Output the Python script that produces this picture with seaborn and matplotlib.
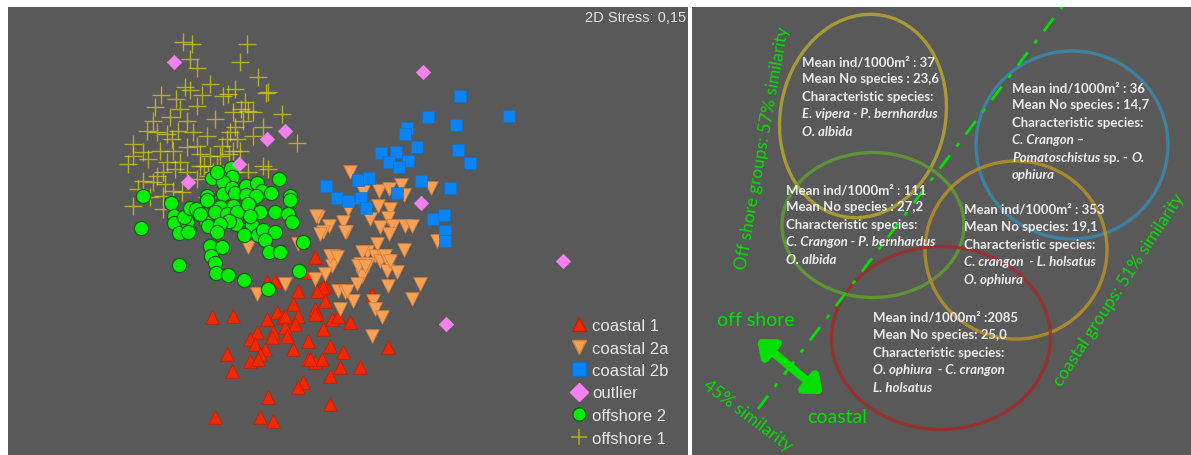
import matplotlib
matplotlib.use("Agg")
import matplotlib.pyplot as plt
from matplotlib.patches import Ellipse
from matplotlib.lines import Line2D
import pandas as pd
import seaborn as sns

# nMDS ordination, coordinates (picture units, y downwards)
coastal1_x = [315, 275, 267, 298, 320, 325, 293, 315, 325, 212, 233, 267, 277, 283, 298, 295, 317,
              332, 338, 350, 323, 285, 273, 257, 250, 255, 272, 287, 308, 265, 260, 227, 293, 330,
              343, 308, 315, 322, 250, 258, 340, 360, 232, 330, 303, 298, 268, 330, 215, 260, 273,
              388, 372, 323, 317, 305, 315, 285, 310]
coastal1_y = [258, 282, 283, 292, 290, 287, 305, 310, 302, 318, 317, 320, 313, 318, 317, 325, 315,
              320, 317, 323, 330, 328, 333, 333, 340, 345, 338, 337, 342, 350, 355, 355, 350, 347,
              353, 360, 363, 360, 362, 360, 368, 368, 372, 377, 383, 388, 398, 405, 418, 418, 422,
              348, 295, 288, 292, 273, 315, 317, 360]

coastal2a_x = [350, 379, 389, 401, 404, 431, 363, 348, 318, 329, 343, 323, 346, 370, 378, 390, 380,
               388, 393, 405, 412, 389, 437, 377, 367, 375, 404, 383, 333, 332, 360, 368, 380, 387,
               387, 397, 325, 315, 362, 357, 420, 388, 285, 338, 345, 353, 373, 412, 375, 340, 382,
               298, 248, 257, 320, 345, 330, 337, 362, 385, 390, 358, 365, 372, 316, 347]
coastal2a_y = [173, 192, 190, 186, 196, 189, 193, 210, 218, 227, 223, 233, 233, 220, 207, 210, 228,
               219, 227, 227, 227, 235, 242, 245, 253, 257, 251, 257, 257, 267, 265, 265, 262, 262,
               272, 273, 275, 280, 277, 285, 285, 287, 285, 292, 293, 302, 302, 300, 310, 310, 318,
               245, 248, 295, 235, 233, 257, 258, 253, 257, 262, 267, 267, 337, 217, 292]

coastal2b_x = [460, 428, 509, 456, 407, 405, 417, 381, 396, 389, 408, 399, 458, 470, 326, 358, 369,
               421, 450, 337, 348, 361, 366, 397, 433, 444, 445, 445]
coastal2b_y = [97, 118, 117, 126, 129, 135, 148, 154, 153, 163, 162, 168, 151, 164, 187, 181, 179,
               182, 189, 199, 202, 199, 209, 194, 220, 216, 232, 242]

outlier_x = [174, 285, 267, 239, 188, 423, 421, 563, 446]
outlier_y = [63, 132, 140, 165, 183, 73, 204, 262, 325]

offshore2_x = [143, 141, 179, 171, 174, 174, 179, 189, 187, 184, 190, 196, 203, 206, 208, 207, 207,
               212, 219, 226, 231, 232, 223, 223, 232, 235, 246, 257, 262, 271, 279, 290, 290, 246,
               256, 249, 233, 220, 215, 227, 237, 236, 229, 220, 217, 251, 260, 275, 288, 292, 252,
               244, 258, 263, 275, 265, 303, 269, 280, 210, 222, 211, 215, 216, 228, 244, 268, 299,
               217, 248, 250, 200, 188]
offshore2_y = [197, 229, 266, 204, 217, 224, 234, 232, 223, 218, 209, 210, 215, 223, 227, 197, 201,
               179, 174, 176, 169, 178, 183, 195, 189, 194, 187, 184, 192, 194, 180, 197, 201, 196,
               197, 206, 207, 208, 213, 215, 213, 225, 222, 225, 233, 217, 213, 213, 215, 223, 226,
               236, 236, 231, 233, 241, 243, 253, 253, 247, 248, 257, 264, 274, 276, 281, 290, 272,
               173, 205, 217, 215, 233]

offshore1_x = [183, 192, 247, 190, 197, 240, 161, 176, 190, 202, 197, 223, 228, 235, 266, 268, 282,
               297, 263, 245, 241, 233, 248, 253, 243, 235, 230, 227, 237, 253, 240, 233, 222, 220,
               229, 210, 204, 217, 248, 263, 268, 180, 170, 187, 178, 193, 207, 153, 147, 157, 167,
               172, 133, 143, 133, 148, 160, 173, 187, 197, 200, 167, 180, 175, 163, 157, 143, 153,
               165, 173, 182, 133, 150, 163, 200, 197, 208, 207, 163, 187, 213, 233, 128, 138, 155,
               215, 185, 210, 258]
offshore1_y = [43, 45, 45, 60, 69, 63, 96, 100, 91, 96, 107, 97, 95, 90, 94, 93, 115, 144, 128, 103,
               110, 113, 112, 113, 122, 128, 133, 140, 140, 137, 152, 152, 147, 157, 155, 157, 167,
               167, 173, 167, 170, 110, 118, 122, 132, 133, 137, 122, 132, 133, 135, 140, 145, 153,
               157, 160, 152, 152, 148, 147, 155, 163, 163, 170, 173, 177, 182, 183, 185, 192, 193,
               207, 198, 197, 167, 180, 177, 198, 210, 173, 173, 173, 165, 190, 108, 120, 88, 85, 78]

group_order = ["coastal 1", "coastal 2a", "coastal 2b", "outlier", "offshore 2", "offshore 1"]
stress_label = "2D Stress: 0,15"

# summary boxes on the right
group_boxes = [
    ["Mean ind/1000m\u00b2 : 37", "Mean No species : 23,6", "Characteristic species:",
     [("E. vipera - P. bernhardus", "italic")], [("O. albida", "italic")]],
    ["Mean ind/1000m\u00b2 : 111", "Mean No species : 27,2", "Characteristic species:",
     [("C. Crangon - P. bernhardus", "italic")], [("O. albida", "italic")]],
    ["Mean ind/1000m\u00b2 : 36", "Mean No species : 14,7", "Characteristic species:",
     [("C. Crangon \u2013", "italic")],
     [("Pomatoschistus", "italic"), (" sp. - ", "normal"), ("O.", "italic")],
     [("ophiura", "italic")]],
    ["Mean ind/1000m\u00b2 : 353", "Mean No species: 19,1", "Characteristic species:",
     [("C. crangon  - L. holsatus", "italic")], [("O. ophiura", "italic")]],
    ["Mean ind/1000m\u00b2 :2085", "Mean No species: 25,0", "Characteristic species:",
     [("O. ophiura  - C. crangon", "italic")], [("L. holsatus", "italic")]],
]

frames = []
for name, xs, ys in [("coastal 1", coastal1_x, coastal1_y), ("coastal 2a", coastal2a_x, coastal2a_y),
                     ("coastal 2b", coastal2b_x, coastal2b_y), ("outlier", outlier_x, outlier_y),
                     ("offshore 2", offshore2_x, offshore2_y), ("offshore 1", offshore1_x, offshore1_y)]:
    frames.append(pd.DataFrame({"MDS1": xs, "MDS2": ys, "group": name}))
data = pd.concat(frames, ignore_index=True)

bg = "#595959"
sns.set_style("dark", {"axes.facecolor": bg})
plt.rcParams["font.family"] = ["Liberation Sans", "DejaVu Sans"]

fig = plt.figure(figsize=(11.91, 4.56), dpi=100)
ax = fig.add_axes([8 / 1191, 0, 680 / 1191, 448 / 456])
ax2 = fig.add_axes([692 / 1191, 0, 499 / 1191, 448 / 456])

styles = {
    "offshore 1": dict(marker="+", s=150, color="#f0e800", alpha=0.6, linewidth=1.0),
    "coastal 1": dict(marker="^", s=95, color="#f02800", edgecolor="#c02000", linewidth=0.6),
    "coastal 2a": dict(marker="v", s=95, color="#f9a054", edgecolor="#d08040", linewidth=0.6),
    "coastal 2b": dict(marker="s", s=80, color="#0a84f5", edgecolor="#0a70d0", linewidth=0.4),
    "offshore 2": dict(marker="o", s=105, color="#00f000", edgecolor="#1c5a1c", linewidth=0.9),
    "outlier": dict(marker="D", s=55, color="#f580f0", edgecolor="#f580f0", linewidth=0.4),
}
draw_order = ["offshore 1", "coastal 1", "coastal 2a", "coastal 2b", "offshore 2", "outlier"]
for g in draw_order:
    sub = data[data["group"] == g]
    sns.scatterplot(data=sub, x="MDS1", y="MDS2", ax=ax, legend=False, **styles[g])

ax.set_xlim(8, 688)
ax.set_ylim(456, 8)
ax.set_xticks([])
ax.set_yticks([])
ax.set_xlabel("")
ax.set_ylabel("")
for sp in ax.spines.values():
    sp.set_visible(False)

ax.text(686, 18, stress_label, ha="right", va="center", fontsize=10.5, color="#e6e6e6")

handles = []
for g in group_order:
    st = styles[g]
    if st["marker"] == "+":
        h = Line2D([], [], marker="+", linestyle="none", markersize=11, color="#b0a820",
                   markeredgewidth=1.2)
    else:
        h = Line2D([], [], marker=st["marker"], linestyle="none", markersize=9.5,
                   markerfacecolor=st["color"], markeredgecolor=st["edgecolor"])
    handles.append(h)
ax.legend(handles, group_order, loc="upper left", bbox_to_anchor=(569, 319),
          bbox_transform=ax.transData, frameon=False, fontsize=12, labelcolor="#e8e8e8",
          handletextpad=0.2, labelspacing=0.45, handlelength=1.2, borderpad=0, borderaxespad=0)

# right panel: schematic of the clusters
ax2.set_xlim(692, 1191)
ax2.set_ylim(456, 8)
ax2.set_xticks([])
ax2.set_yticks([])
for sp in ax2.spines.values():
    sp.set_visible(False)

ellipses = [
    ((863, 117), 165, 205, 12, "#b4a632"),
    ((1072, 146), 192, 188, 0, "#3a88ac"),
    ((873, 226), 182, 145, 0, "#5f9e32"),
    ((1016, 251), 182, 178, 0, "#b89028"),
    ((941, 339), 219, 183, 0, "#a02a28"),
]
for c, w, h, ang, col in ellipses:
    ax2.add_patch(Ellipse(c, w, h, angle=ang, fill=False, edgecolor=col, linewidth=2.4, alpha=0.85))

green = "#00e000"
ax2.plot([758, 1062], [410, 8], color=green, linewidth=2, linestyle=(0, (6, 4, 1.5, 4)))
ax2.annotate("", xy=(823, 395), xytext=(757, 340),
             arrowprops=dict(arrowstyle="<|-|>,head_length=0.55,head_width=0.45", color=green,
                             linewidth=6, shrinkA=0, shrinkB=0, mutation_scale=16))

tfont = ["Lato", "DejaVu Sans"]
ax2.text(756, 320, "off shore", color=green, fontsize=14, ha="center", va="center", family=tfont)
ax2.text(837, 418, "coastal", color=green, fontsize=14, ha="center", va="center", family=tfont)
ax2.text(748, 416, "45% similarity", color=green, fontsize=12.5, rotation=-37, ha="center",
         va="center", family=tfont, rotation_mode="anchor")
ax2.text(763, 148, "Off shore groups: 57% similarity", color=green, fontsize=12.5, rotation=80,
         ha="center", va="center", family=tfont, rotation_mode="anchor")
ax2.text(1119, 290, "coastal groups: 51% similarity", color=green, fontsize=12.5, rotation=57,
         ha="center", va="center", family=tfont, rotation_mode="anchor")

box_pos = [(802, 62), (786, 190), (1012, 88), (964, 210), (873, 318)]
line_step = 17.4
for (bx, by), lines in zip(box_pos, group_boxes):
    for i, line in enumerate(lines):
        y = by + i * line_step
        segs = [(line, "normal")] if isinstance(line, str) else line
        prev = None
        for s, style in segs:
            kw = dict(color="#eeeeee", fontsize=9.5, fontweight="bold", fontstyle=style,
                      family=tfont, va="center", ha="left")
            if prev is None:
                prev = ax2.text(bx, y, s, **kw)
            else:
                prev = ax2.annotate(s, xy=(1, 0.5), xycoords=prev, **kw)

fig.savefig("out.png", dpi=100, facecolor="white")
